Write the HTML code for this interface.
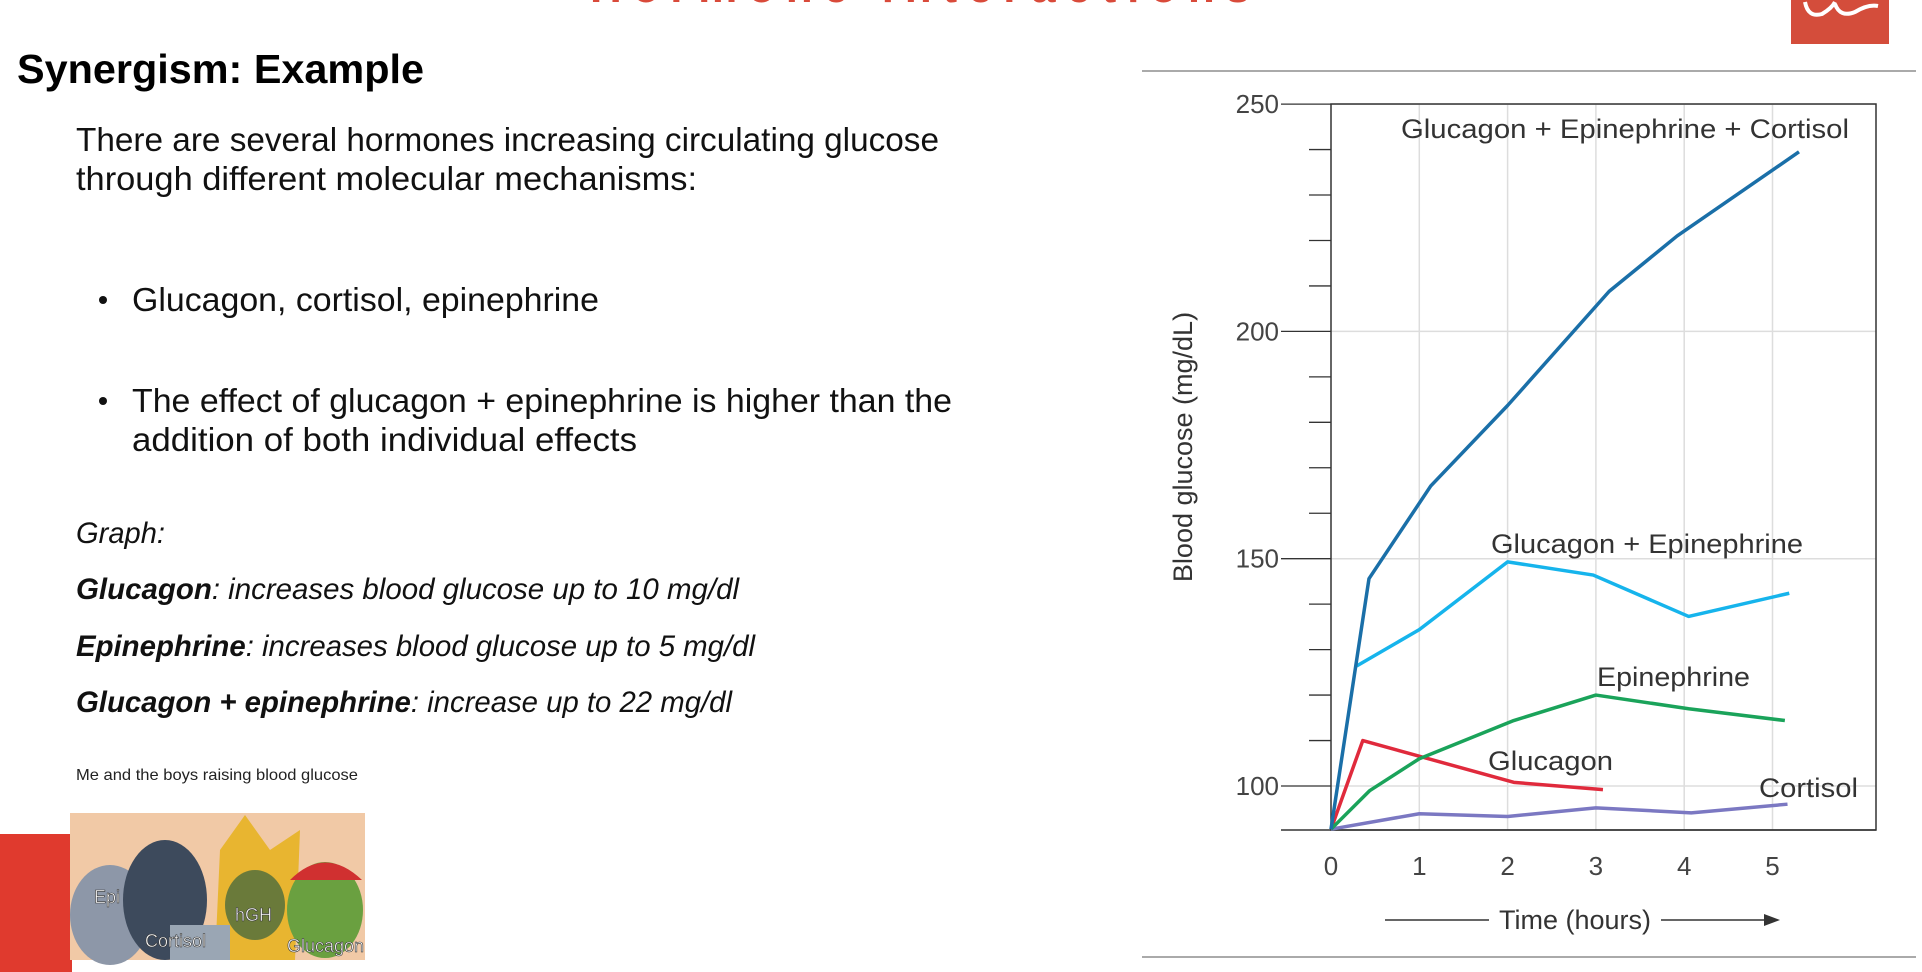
<!DOCTYPE html>
<html><head><meta charset="utf-8"><style>
html,body{margin:0;padding:0;background:#fff;}
svg{display:block;}
</style></head><body>
<svg id="page" width="1922" height="972" viewBox="0 0 1922 972" xmlns="http://www.w3.org/2000/svg" font-family="Liberation Sans, sans-serif">
<text x="590" y="2" font-size="44" font-weight="bold" fill="#d94a3a" textLength="660">Hormone interactions</text>
<g>
<rect x="1791" y="0" width="98" height="44" fill="#d44d3b"/>
<path d="M1805 2 Q1808 18 1822 14 Q1832 8 1835 2 M1835 4 Q1840 18 1855 12 Q1868 4 1878 6" stroke="#fff" stroke-width="4" fill="none"/>
</g>
<text x="17" y="83" font-size="41" font-weight="bold" fill="#000" textLength="407" lengthAdjust="spacingAndGlyphs">Synergism: Example</text>
<g font-size="33" fill="#111">
<text x="76" y="151" textLength="863" lengthAdjust="spacingAndGlyphs">There are several hormones increasing circulating glucose</text>
<text x="76" y="190" textLength="621" lengthAdjust="spacingAndGlyphs">through different molecular mechanisms:</text>
<circle cx="103" cy="300" r="4" fill="#111"/>
<text x="132" y="311" textLength="467" lengthAdjust="spacingAndGlyphs">Glucagon, cortisol, epinephrine</text>
<circle cx="103" cy="401" r="4" fill="#111"/>
<text x="132" y="412" textLength="820" lengthAdjust="spacingAndGlyphs">The effect of glucagon + epinephrine is higher than the</text>
<text x="132" y="451" textLength="505" lengthAdjust="spacingAndGlyphs">addition of both individual effects</text>
</g>
<g font-size="30" font-style="italic" fill="#111">
<text x="76" y="543" textLength="89" lengthAdjust="spacingAndGlyphs">Graph:</text>
<text x="76" y="599" textLength="663" lengthAdjust="spacingAndGlyphs"><tspan font-weight="bold">Glucagon</tspan>: increases blood glucose up to 10 mg/dl</text>
<text x="76" y="656" textLength="679" lengthAdjust="spacingAndGlyphs"><tspan font-weight="bold">Epinephrine</tspan>: increases blood glucose up to 5 mg/dl</text>
<text x="76" y="712" textLength="656" lengthAdjust="spacingAndGlyphs"><tspan font-weight="bold">Glucagon + epinephrine</tspan>: increase up to 22 mg/dl</text>
</g>
<text x="76" y="780" font-size="16" fill="#222" textLength="282" lengthAdjust="spacingAndGlyphs">Me and the boys raising blood glucose</text>
<rect x="0" y="834" width="72" height="138" fill="#e03a2e"/>
<g>
<rect x="70" y="813" width="295" height="147" fill="#f1c9a6"/>
<ellipse cx="110" cy="915" rx="40" ry="50" fill="#8d97a8"/>
<ellipse cx="165" cy="900" rx="42" ry="60" fill="#3d4a5c"/>
<polygon points="215,960 220,850 245,815 270,850 300,830 295,960" fill="#e8b530"/>
<ellipse cx="255" cy="905" rx="30" ry="35" fill="#6a7a3a"/>
<ellipse cx="325" cy="910" rx="38" ry="48" fill="#6aa040"/>
<path d="M290 880 Q325 845 362 880 Z" fill="#d03030"/>
<rect x="170" y="925" width="60" height="35" fill="#9aa6b4"/>
<g font-size="18" fill="#fff" stroke="#333" stroke-width="0.6">
<text x="94" y="903">Epi</text><text x="145" y="947">Cortisol</text><text x="235" y="921">hGH</text><text x="287" y="952">Glucagon</text>
</g>
</g>
<line x1="1142" y1="71" x2="1916" y2="71" stroke="#aaa" stroke-width="2"/>
<line x1="1142" y1="957" x2="1916" y2="957" stroke="#aaa" stroke-width="2"/>
<g id="chart"></g>
</svg>
<script>
const yTicks=[100,150,200,250];
const xTicks=[0,1,2,3,4,5];
const gecX=[0,0.43,1.13,2.0,3.15,3.92,5.3];
const gecY=[90.5,145.6,166,183.7,208.8,221,239.5];
const geX=[0.29,1.0,2.0,2.97,4.05,5.19];
const geY=[126.4,134.4,149.3,146.4,137.3,142.4];
const epiX=[0,0.44,1.0,2.07,3.0,4.05,5.14];
const epiY=[90.5,99,106,114.4,120,117,114.4];
const glucX=[0,0.36,2.07,3.08];
const glucY=[90.5,110,100.8,99.2];
const cortX=[0,1.0,2.0,3.0,4.08,5.17];
const cortY=[90.5,93.9,93.3,95.2,94.1,96];
const NS='http://www.w3.org/2000/svg';
const L=1331,R=1876,T=104,B=830;
const xs=v=>L+v*88.3;
const ys=v=>786-(v-100)*227.3/50;
const g=document.getElementById('chart');
function mk(tag,attrs,parent){const e=document.createElementNS(NS,tag);for(const k in attrs)e.setAttribute(k,attrs[k]);(parent||g).appendChild(e);return e;}
xTicks.forEach(t=>{if(t>0){const l=mk('line',{x1:xs(t),x2:xs(t),y1:T,y2:B,stroke:'#ddd','stroke-width':1.5});

}});
yTicks.forEach(t=>{const l=mk('line',{x1:L,x2:R,y1:ys(t),y2:ys(t),stroke:'#ddd','stroke-width':1.5});

});
for(let v=100;v<=250;v+=10){const major=v%50===0;const l=mk('line',{x1:major?L-50:L-22,x2:L,y1:ys(v),y2:ys(v),stroke:'#333','stroke-width':1.3});

}
const fr=mk('rect',{x:L,y:T,width:R-L,height:B-T,fill:'none',stroke:'#333','stroke-width':1.5});


const bl=mk('line',{x1:L-50,x2:R,y1:B,y2:B,stroke:'#333','stroke-width':1.5});


yTicks.forEach(t=>{const e=mk('text',{x:L-52,y:ys(t)+9,'font-size':26,'text-anchor':'end',fill:'#444'});e.textContent=t;

});
xTicks.forEach(t=>{const e=mk('text',{x:xs(t),y:875,'font-size':26,'text-anchor':'middle',fill:'#444'});e.textContent=t;

});
const yt=mk('text',{x:0,y:0,'font-size':27,'text-anchor':'middle',fill:'#333',transform:'translate(1192,447) rotate(-90)'});yt.textContent='Blood glucose (mg/dL)';


const xt=mk('text',{x:1575,y:929,'font-size':27,'text-anchor':'middle',fill:'#333'});xt.textContent='Time (hours)';


const a1=mk('line',{x1:1385,x2:1489,y1:920,y2:920,stroke:'#333','stroke-width':1.5});


const a2=mk('line',{x1:1661,x2:1772,y1:920,y2:920,stroke:'#333','stroke-width':1.5});


const ah=mk('polygon',{points:'1780,920 1764,914 1764,926',fill:'#333'});


function series(X,Y,color,name){const p=mk('polyline',{points:X.map((x,i)=>xs(x)+','+ys(Y[i])).join(' '),fill:'none',stroke:color,'stroke-width':3.5,'stroke-linejoin':'round'});

}
series(cortX,cortY,'#7b78c2','cortisol-line');
series(glucX,glucY,'#e02a3c','glucagon-line');
series(epiX,epiY,'#1aa35a','epinephrine-line');
series(geX,geY,'#16b4ec','glucagon-epinephrine-line');
series(gecX,gecY,'#1a6fa8','glucagon-epinephrine-cortisol-line');
function lab(t,x,y,w,name){const e=mk('text',{x:x,y:y,'font-size':27,fill:'#333',textLength:w,lengthAdjust:'spacingAndGlyphs'});e.textContent=t;

}
lab('Glucagon + Epinephrine + Cortisol',1401,138,448,'label-gec');
lab('Glucagon + Epinephrine',1491,553,312,'label-ge');
lab('Epinephrine',1597,686,153,'label-epinephrine');
lab('Glucagon',1488,770,125,'label-glucagon');
lab('Cortisol',1759,797,99,'label-cortisol');
</script>
</body></html>
